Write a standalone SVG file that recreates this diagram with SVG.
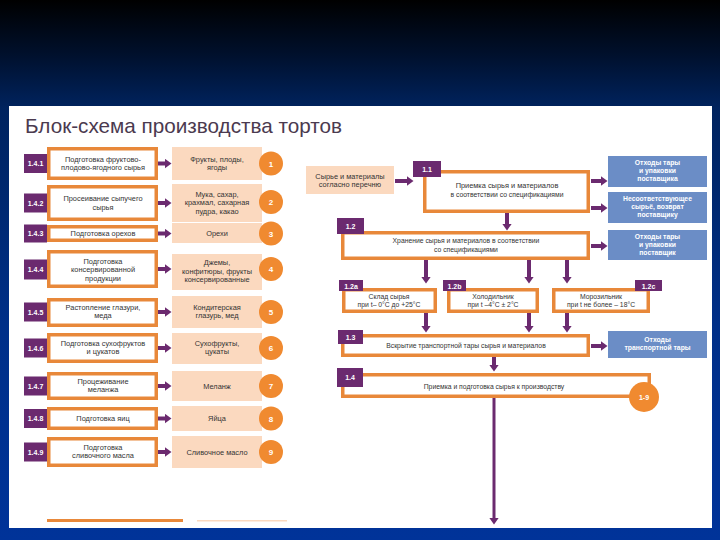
<svg xmlns="http://www.w3.org/2000/svg" width="720" height="540" viewBox="0 0 720 540">
<defs>
<linearGradient id="bg" x1="0" y1="0" x2="0" y2="1">
<stop offset="0" stop-color="#000000"/>
<stop offset="0.1" stop-color="#00102c"/>
<stop offset="0.2" stop-color="#00235e"/>
<stop offset="0.6" stop-color="#002f88"/>
<stop offset="1" stop-color="#003399"/>
</linearGradient>
<marker id="ah" viewBox="0 0 7 10" refX="0.5" refY="5" markerWidth="7" markerHeight="10" markerUnits="userSpaceOnUse" orient="auto">
<path d="M0,0 L7,5 L0,10 Z" fill="#6b2a6f"/>
</marker>
<style>
.ob{fill:#fff;stroke:#e8883a;stroke-width:3.5}
.pk{fill:#fbd9bf}
.bl{fill:#6b8dc6}
.lb{fill:#6b2a6f}
.ci{fill:#f08a30}
.t{font-family:"Liberation Sans",Arial,sans-serif;font-size:7.4px;fill:#333;text-anchor:middle}
.ts{font-family:"Liberation Sans",Arial,sans-serif;font-size:6.8px;fill:#333;text-anchor:middle}
.lt{font-family:"Liberation Sans",Arial,sans-serif;font-size:7px;font-weight:bold;fill:#fff;text-anchor:middle}
.bt{font-family:"Liberation Sans",Arial,sans-serif;font-size:6.8px;font-weight:bold;fill:#fff;text-anchor:middle}
.nt{font-family:"Liberation Sans",Arial,sans-serif;font-size:8px;font-weight:bold;fill:#fff;text-anchor:middle}
.c{stroke:#6b2a6f;stroke-width:4;fill:none;marker-end:url(#ah)}
.cl{stroke:#6b2a6f;stroke-width:3;fill:none;marker-end:url(#ah)}
</style>
</defs>
<rect x="0" y="0" width="720" height="540" fill="url(#bg)"/>
<rect x="9" y="106" width="703" height="422" fill="#ffffff"/>
<text x="25" y="133" font-family="'Liberation Sans Narrow','Liberation Sans',Arial,sans-serif" font-size="21" fill="#4b3a4f" textLength="317" lengthAdjust="spacingAndGlyphs">Блок-схема производства тортов</text>

<g id="connectors">
<path class="c" d="M158,163.5 H165"/>
<path class="c" d="M158,203 H165"/>
<path class="c" d="M158,233.5 H165"/>
<path class="c" d="M158,269 H165"/>
<path class="c" d="M158,312 H165"/>
<path class="c" d="M158,348 H165"/>
<path class="c" d="M158,386 H165"/>
<path class="c" d="M158,418.5 H165"/>
<path class="c" d="M158,452 H165"/>
<path class="c" d="M395,181 H407"/>
<path class="c" d="M591,181 H601"/>
<path class="c" d="M591,208 H601"/>
<path class="c" d="M507,213 V224"/>
<path class="c" d="M591,246 H601"/>
<path class="c" d="M426,259 V277"/>
<path class="c" d="M529,259 V277"/>
<path class="c" d="M567,259 V277"/>
<path class="c" d="M426,313 V326"/>
<path class="c" d="M529,313 V326"/>
<path class="c" d="M567,313 V326"/>
<path class="c" d="M591,346 H601"/>
<path class="c" d="M494,357 V365"/>
<path class="cl" d="M494,398 V518"/>
</g>

<g id="n141"><rect class="ob" x="48.75" y="148.75" width="107.5" height="29.5"/><rect class="lb" x="24" y="154" width="23" height="19"/><text class="lt" x="35.5" y="166">1.4.1</text><text class="t" x="103"><tspan x="103" y="161.5">Подготовка фруктово-</tspan><tspan x="103" y="170">плодово-ягодного сырья</tspan></text></g>
<g id="p1"><rect class="pk" x="172" y="147" width="90" height="33"/><text class="t"><tspan x="217" y="161.5">Фрукты, плоды,</tspan><tspan x="217" y="170">ягоды</tspan></text><circle class="ci" cx="271" cy="163.5" r="12"/><text class="nt" x="271" y="166.5">1</text></g>

<g id="n142"><rect class="ob" x="48.75" y="186.75" width="107.5" height="32.5"/><rect class="lb" x="24" y="193.5" width="23" height="19"/><text class="lt" x="35.5" y="205.5">1.4.2</text><text class="t"><tspan x="103" y="201">Просеивание сыпучего</tspan><tspan x="103" y="209.5">сырья</tspan></text></g>
<g id="p2"><rect class="pk" x="172" y="184" width="90" height="38"/><text class="t"><tspan x="217" y="196.5">Мука, сахар,</tspan><tspan x="217" y="205">крахмал, сахарная</tspan><tspan x="217" y="213.5">пудра, какао</tspan></text><circle class="ci" cx="271" cy="202" r="12"/><text class="nt" x="271" y="205">2</text></g>

<g id="n143"><rect class="ob" x="48.75" y="226.75" width="107.5" height="13.5"/><rect class="lb" x="24" y="224.5" width="23" height="18"/><text class="lt" x="35.5" y="236">1.4.3</text><text class="t" x="103" y="236">Подготовка орехов</text></g>
<g id="p3"><rect class="pk" x="172" y="223" width="90" height="20"/><text class="t" x="217" y="236">Орехи</text><circle class="ci" cx="271" cy="233.5" r="12"/><text class="nt" x="271" y="236.5">3</text></g>

<g id="n144"><rect class="ob" x="48.75" y="251.75" width="107.5" height="34.5"/><rect class="lb" x="24" y="259.5" width="23" height="20"/><text class="lt" x="35.5" y="272">1.4.4</text><text class="t"><tspan x="103" y="263.5">Подготовка</tspan><tspan x="103" y="272">консервированной</tspan><tspan x="103" y="280.5">продукции</tspan></text></g>
<g id="p4"><rect class="pk" x="172" y="254" width="90" height="36"/><text class="t"><tspan x="217" y="265">Джемы,</tspan><tspan x="217" y="273.5">конфитюры, фрукты</tspan><tspan x="217" y="282">консервированные</tspan></text><circle class="ci" cx="271" cy="269" r="12"/><text class="nt" x="271" y="272">4</text></g>

<g id="n145"><rect class="ob" x="48.75" y="299.75" width="107.5" height="25.5"/><rect class="lb" x="24" y="302.5" width="23" height="19"/><text class="lt" x="35.5" y="314.5">1.4.5</text><text class="t"><tspan x="103" y="309.5">Растопление глазури,</tspan><tspan x="103" y="318">меда</tspan></text></g>
<g id="p5"><rect class="pk" x="172" y="296" width="90" height="32"/><text class="t"><tspan x="217" y="309.5">Кондитерская</tspan><tspan x="217" y="318">глазурь, мед</tspan></text><circle class="ci" cx="271" cy="312" r="12"/><text class="nt" x="271" y="315">5</text></g>

<g id="n146"><rect class="ob" x="48.75" y="334.75" width="107.5" height="26.5"/><rect class="lb" x="24" y="338.5" width="23" height="19"/><text class="lt" x="35.5" y="350.5">1.4.6</text><text class="t"><tspan x="103" y="345.5">Подготовка сухофруктов</tspan><tspan x="103" y="354">и цукатов</tspan></text></g>
<g id="p6"><rect class="pk" x="172" y="333" width="90" height="31"/><text class="t"><tspan x="217" y="345.5">Сухофрукты,</tspan><tspan x="217" y="354">цукаты</tspan></text><circle class="ci" cx="271" cy="348" r="12"/><text class="nt" x="271" y="351">6</text></g>

<g id="n147"><rect class="ob" x="48.75" y="373.75" width="107.5" height="24.5"/><rect class="lb" x="24" y="376.5" width="23" height="19"/><text class="lt" x="35.5" y="388.5">1.4.7</text><text class="t"><tspan x="103" y="383.5">Процеживание</tspan><tspan x="103" y="392">меланжа</tspan></text></g>
<g id="p7"><rect class="pk" x="172" y="371" width="90" height="30"/><text class="t" x="217" y="388.5">Меланж</text><circle class="ci" cx="271" cy="386" r="12"/><text class="nt" x="271" y="389">7</text></g>

<g id="n148"><rect class="ob" x="48.75" y="408.75" width="107.5" height="19.5"/><rect class="lb" x="24" y="409" width="23" height="19"/><text class="lt" x="35.5" y="421">1.4.8</text><text class="t" x="103" y="421">Подготовка яиц</text></g>
<g id="p8"><rect class="pk" x="172" y="406" width="90" height="25"/><text class="t" x="217" y="421">Яйца</text><circle class="ci" cx="271" cy="418.5" r="12"/><text class="nt" x="271" y="421.5">8</text></g>

<g id="n149"><rect class="ob" x="48.75" y="438.75" width="107.5" height="26.5"/><rect class="lb" x="24" y="442.5" width="23" height="19"/><text class="lt" x="35.5" y="454.5">1.4.9</text><text class="t"><tspan x="103" y="449.5">Подготовка</tspan><tspan x="103" y="458">сливочного масла</tspan></text></g>
<g id="p9"><rect class="pk" x="172" y="436" width="90" height="32"/><text class="t" x="217" y="454.5">Сливочное масло</text><circle class="ci" cx="271" cy="452" r="12"/><text class="nt" x="271" y="455">9</text></g>

<g id="footer"><rect x="47" y="519" width="136" height="3" fill="#e8883a"/><rect x="197" y="520" width="90" height="1.5" fill="#fbd9bf"/></g>

<g id="input"><rect class="pk" x="306" y="166" width="88" height="28"/><text class="t"><tspan x="350" y="178.5">Сырье и материалы</tspan><tspan x="350" y="187">согласно перечню</tspan></text></g>

<g id="n11"><rect class="ob" x="424.75" y="171.75" width="163.5" height="39.5"/><rect class="lb" x="413" y="161" width="28" height="16"/><text class="lt" x="427" y="172">1.1</text><text class="t" x="507" y="188">Приемка сырья и материалов</text><text class="ts" x="507" y="196.5">в соответствии со спецификациями</text></g>

<g id="wA"><rect class="bl" x="608" y="156" width="99" height="31"/><text class="bt"><tspan x="657.5" y="165">Отходы тары</tspan><tspan x="657.5" y="173">и упаковки</tspan><tspan x="657.5" y="181">поставщика</tspan></text></g>
<g id="wB"><rect class="bl" x="608" y="192" width="99" height="31"/><text class="bt"><tspan x="657.5" y="201">Несоответствующее</tspan><tspan x="657.5" y="209">сырьё, возврат</tspan><tspan x="657.5" y="217">поставщику</tspan></text></g>

<g id="n12"><rect class="ob" x="342.75" y="232.75" width="245.5" height="25.5"/><rect class="lb" x="337" y="218" width="27" height="16"/><text class="lt" x="350.5" y="229">1.2</text><text class="ts"><tspan x="466" y="243">Хранение сырья и материалов в соответствии</tspan><tspan x="466" y="251.5">со спецификациями</tspan></text></g>
<g id="wC"><rect class="bl" x="608" y="230" width="99" height="30"/><text class="bt"><tspan x="657.5" y="239">Отходы тары</tspan><tspan x="657.5" y="247">и упаковки</tspan><tspan x="657.5" y="255">поставщик</tspan></text></g>

<g id="n12a"><rect class="ob" x="343.75" y="289.75" width="91.5" height="21.5"/><rect class="lb" x="339" y="280" width="24" height="11"/><text class="lt" x="351" y="288.5">1.2a</text><text class="ts"><tspan x="389" y="299">Склад сырья</tspan><tspan x="389" y="307">при t– 0°C до +25°C</tspan></text></g>
<g id="n12b"><rect class="ob" x="448.75" y="289.75" width="88.5" height="21.5"/><rect class="lb" x="443" y="280" width="23" height="11"/><text class="lt" x="454.5" y="288.5">1.2b</text><text class="ts"><tspan x="493" y="299">Холодильник</tspan><tspan x="493" y="307">при t –4°C ± 2°C</tspan></text></g>
<g id="n12c"><rect class="ob" x="553.75" y="289.75" width="94.5" height="21.5"/><rect class="lb" x="635" y="280" width="27" height="11"/><text class="lt" x="648.5" y="288.5">1.2c</text><text class="ts"><tspan x="601" y="299">Морозильник</tspan><tspan x="601" y="307">при t не более – 18°C</tspan></text></g>

<g id="n13"><rect class="ob" x="342.75" y="335.75" width="245.5" height="19.5"/><rect class="lb" x="338" y="330" width="25" height="14"/><text class="lt" x="350.5" y="339.5">1.3</text><text class="ts" x="466" y="348">Вскрытие транспортной тары сырья и материалов</text></g>
<g id="wD"><rect class="bl" x="608" y="331" width="99" height="27"/><text class="bt"><tspan x="657.5" y="342">Отходы</tspan><tspan x="657.5" y="350">транспортной тары</tspan></text></g>

<g id="n14"><rect class="ob" x="342.75" y="374.75" width="306.5" height="21.5"/><rect class="lb" x="337" y="368" width="26" height="19"/><text class="lt" x="350" y="380">1.4</text><text class="ts" x="494" y="389">Приемка и подготовка сырья к производству</text><circle class="ci" cx="644" cy="397" r="15"/><text class="lt" x="644" y="399.5">1-9</text></g>
</svg>
